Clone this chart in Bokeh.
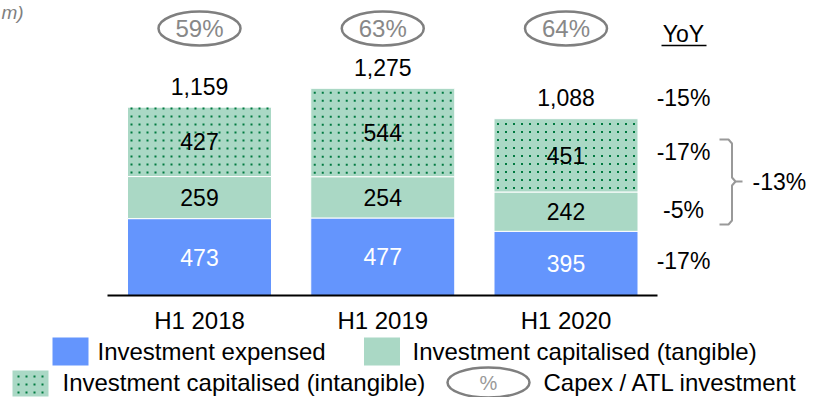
from bokeh.plotting import figure
from bokeh.models import Range1d
from bokeh.embed import file_html
from bokeh.resources import INLINE
from bokeh.core.properties import value

# ---------------- data ----------------
categories = ["H1 2018", "H1 2019", "H1 2020"]
expensed = [473, 477, 395]
tangible = [259, 254, 242]
intangible = [427, 544, 451]
capex_ratio = ["59%", "63%", "64%"]
yoy_labels = ["-15%", "-17%", "-5%", "-17%"]
yoy_capitalised = "-13%"
legend_labels = ["Investment expensed", "Investment capitalised (tangible)",
                 "Investment capitalised (intangible)", "Capex / ATL investment"]
unit_note = "m)"

# ---------------- style ----------------
BLUE = "#6495fd"
GREEN = "#aad8c5"
DOTS = "#007a40"
GREY = "#7f7f7f"
FONT = value("Liberation Sans")
FS = "23px"
LFS = "24px"

W, H = 807, 397
PXU = 0.1625      # pixels per value unit
STEP = 183.25     # pixels between category centres
X0PX = 199        # plot-x of first category
BASE_Y = 295      # plot-y (from top) of zero line
BAR_PX = 144      # bar width in pixels
DOT_GAP = 8       # pixel spacing of the dotted texture


def sx(X):
    return (X - X0PX) / STEP


def sy(Y):
    return (BASE_Y - Y) / PXU


def dot_grid(cx, bottom, top, width_px):
    """Dotted texture positions (data coords) filling a box of the given pixel width."""
    gx, gy = [], []
    n_x = int(width_px // DOT_GAP)
    left = cx - (n_x - 1) * DOT_GAP / 2 / STEP
    yy = bottom + (DOT_GAP / 2) / PXU
    while yy < top - 1 / PXU:
        for k in range(n_x):
            gx.append(left + k * DOT_GAP / STEP)
            gy.append(yy)
        yy += DOT_GAP / PXU
    return gx, gy


p = figure(width=W, height=H, output_backend="svg", toolbar_location=None,
           x_range=Range1d(-X0PX / STEP, (W - X0PX) / STEP),
           y_range=Range1d(-(H - BASE_Y) / PXU, BASE_Y / PXU),
           x_axis_location=None, y_axis_location=None, min_border=0)
p.outline_line_color = None
p.grid.visible = False
p.background_fill_color = "white"

xs = list(range(len(categories)))
bw = BAR_PX / STEP
t1 = [e + t for e, t in zip(expensed, tangible)]
totals = [a + b for a, b in zip(t1, intangible)]

p.vbar(x=xs, width=bw, bottom=0, top=expensed, fill_color=BLUE, line_color="white", line_width=1)
p.vbar(x=xs, width=bw, bottom=expensed, top=t1, fill_color=GREEN, line_color="white", line_width=1)
p.vbar(x=xs, width=bw, bottom=t1, top=totals, fill_color=GREEN, line_color="white", line_width=1)

# dotted texture of the intangible segments
dx, dy = [], []
for i in xs:
    gx, gy = dot_grid(i, t1[i], totals[i], BAR_PX)
    dx += gx
    dy += gy
p.scatter(x=dx, y=dy, marker="square", size=2, fill_color=DOTS, line_color=None)

# zero line
p.segment(x0=[sx(107)], y0=[0], x1=[sx(657)], y1=[0], line_color="black", line_width=2)

# segment labels
p.text(x=xs, y=[e / 2 for e in expensed], text=[str(v) for v in expensed], text_color="white",
       text_font=FONT, text_font_size=FS, text_align="center", text_baseline="middle")
p.text(x=xs, y=[e + t / 2 for e, t in zip(expensed, tangible)], text=[str(v) for v in tangible],
       text_color="black", text_font=FONT, text_font_size=FS, text_align="center", text_baseline="middle")
p.text(x=xs, y=[a + b / 2 for a, b in zip(t1, intangible)], text=[str(v) for v in intangible],
       text_color="black", text_font=FONT, text_font_size=FS, text_align="center", text_baseline="middle")
# totals
p.text(x=xs, y=[t + 21 / PXU for t in totals], text=[f"{v:,}" for v in totals],
       text_color="black", text_font=FONT, text_font_size=FS, text_align="center", text_baseline="middle")

# category labels
p.text(x=xs, y=[sy(320)] * 3, text=categories, text_color="black", text_font=FONT,
       text_font_size=LFS, text_align="center", text_baseline="middle")

# capex ratio ovals
p.ellipse(x=xs, y=[sy(28)] * 3, width=82, height=34, width_units="screen", height_units="screen",
          fill_color=None, line_color=GREY, line_width=2.5)
p.text(x=xs, y=[sy(28)] * 3, text=capex_ratio, text_color="#888888", text_font=FONT,
       text_font_size="24px", text_align="center", text_baseline="middle")

# YoY column
p.text(x=[sx(683)], y=[sy(33)], text=["YoY"], text_color="black", text_font=FONT,
       text_font_size=FS, text_align="center", text_baseline="middle")
p.segment(x0=[sx(661)], y0=[sy(45)], x1=[sx(706)], y1=[sy(45)], line_color="black", line_width=1.5)
p.text(x=[sx(683)] * 4, y=[sy(97), sy(151), sy(209), sy(260)], text=yoy_labels, text_color="black",
       text_font=FONT, text_font_size=FS, text_align="center", text_baseline="middle")
# bracket
p.multi_line(xs=[[sx(719), sx(728), sx(731.5), sx(731.5), sx(735), sx(742)],
                 [sx(735), sx(731.5), sx(731.5), sx(728), sx(719)]],
             ys=[[sy(139), sy(139), sy(143), sy(177), sy(181), sy(181)],
                 [sy(181), sy(185), sy(220), sy(224), sy(224)]],
             line_color="#999999", line_width=2)
p.text(x=[sx(752)], y=[sy(181)], text=[yoy_capitalised], text_color="black", text_font=FONT,
       text_font_size=FS, text_align="left", text_baseline="middle")

# unit note (fragment visible at the top-left corner)
p.text(x=[sx(1)], y=[sy(12)], text=[unit_note], text_color=GREY, text_font=FONT,
       text_font_size="19px", text_font_style="italic", text_align="left", text_baseline="middle")

# legend
p.rect(x=[sx(70)], y=[sy(351)], width=36, height=28, width_units="screen", height_units="screen",
       fill_color=BLUE, line_color=None)
p.rect(x=[sx(381.5)], y=[sy(351)], width=36, height=28, width_units="screen", height_units="screen",
       fill_color=GREEN, line_color=None)
p.rect(x=[sx(30)], y=[sy(383)], width=36, height=26, width_units="screen", height_units="screen",
       fill_color=GREEN, line_color=None)
lgx, lgy = dot_grid(sx(30), sy(396), sy(370), 36)
p.scatter(x=lgx, y=lgy, marker="square", size=2, fill_color=DOTS, line_color=None)
p.ellipse(x=[sx(488)], y=[sy(382)], width=82, height=30, width_units="screen", height_units="screen",
          fill_color=None, line_color=GREY, line_width=2.5)
p.text(x=[sx(488)], y=[sy(382)], text=["%"], text_color="#999999", text_font=FONT,
       text_font_size="20px", text_align="center", text_baseline="middle")
p.text(x=[sx(97), sx(412), sx(62), sx(543)], y=[sy(351), sy(351), sy(382), sy(382)],
       text=legend_labels, text_color="black", text_font=FONT, text_font_size=LFS,
       text_align="left", text_baseline="middle")

open("out.html", "w").write(file_html(p, INLINE))
